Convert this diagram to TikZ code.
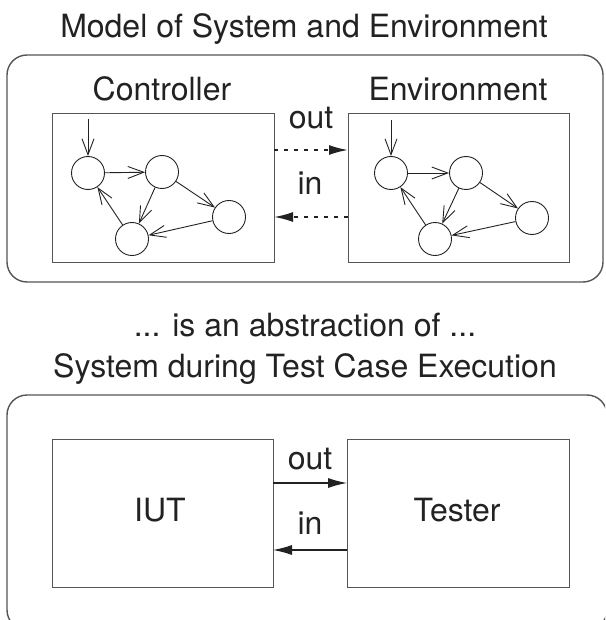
\documentclass[tikz,border=0pt]{standalone}
\usepackage{fontspec}
\setmainfont{TeX Gyre Heros}
\usetikzlibrary{arrows.meta}
\definecolor{ink}{HTML}{222222}
\definecolor{frame}{HTML}{555555}
\tikzset{
  lbl/.style={anchor=base, text=ink, inner sep=0pt, font=\fontsize{32}{38}\selectfont},
  outer/.style={draw=frame, line width=1.4pt, rounded corners=20pt},
  box/.style={draw=frame, line width=1pt, rectangle, inner sep=0pt},
  st/.style={draw=ink, circle, minimum size=33pt, inner sep=0pt, line width=0.9pt},
  tr/.style={draw=ink, line width=0.9pt, -{Straight Barb[length=16pt,width=12pt,line width=0.9pt]}},
  chan/.style={draw=ink, line width=1.1pt, -{Latex[length=19pt,width=10pt]}},
  dchan/.style={chan, line width=1.8pt, dash pattern=on 4pt off 6pt},
}
\begin{document}
\begin{tikzpicture}[x=1pt,y=-1pt]
\useasboundingbox (0,0) rectangle (605,620);
\begin{scope}
\clip (0,0) rectangle (605,620);

% ---------- upper part: model ----------
\node[lbl] (t1) at (304,38) {Model of System and Environment};
\draw[outer] (7,55) rectangle (603,282);

\node[lbl] (lc) at (162,101) {Controller};
\node[lbl] (le) at (458,101) {Environment};

\node[box, minimum width=222pt, minimum height=148pt] (ctrl) at (163,188) {};
\node[box, minimum width=221pt, minimum height=148pt] (env) at (458.5,188) {};

% controller automaton
\node[st] (a1) at (88,173) {};
\node[st] (a2) at (162,172) {};
\node[st] (a3) at (229,217) {};
\node[st] (a4) at (132,239) {};
\coordinate (ai) at (88,119);
\draw[tr] (ai) -- (a1);
\draw[tr] (a1) -- (a2);
\draw[tr] (a2) -- (a3);
\draw[tr] (a2) -- (a4);
\draw[tr] (a3) -- (a4);
\draw[tr] (a4) -- (a1);

% environment automaton
\node[st] (b1) at (391,173) {};
\node[st] (b2) at (466,173) {};
\node[st] (b3) at (532,218) {};
\node[st] (b4) at (435,239) {};
\coordinate (bi) at (391,120);
\draw[tr] (bi) -- (b1);
\draw[tr] (b1) -- (b2);
\draw[tr] (b2) -- (b3);
\draw[tr] (b2) -- (b4);
\draw[tr] (b3) -- (b4);
\draw[tr] (b4) -- (b1);

% channels between the two models
\coordinate (co) at (274,150);
\coordinate (eo) at (348,150);
\coordinate (ci) at (274,217);
\coordinate (ei) at (348,217);
\draw[dchan] (co) -- (eo);
\draw[dchan] (ei) -- (ci);
\node[lbl] (lo1) at (311,129) {out};
\node[lbl] (li1) at (310,195) {in};

% ---------- middle text ----------
\node[lbl] (m1) at (305,336) {... is an abstraction of ...};
\node[lbl] (m2) at (305,377) {System during Test Case Execution};

% ---------- lower part: test execution ----------
\draw[outer] (7,395) rectangle (607,630);
\node[box, minimum width=221pt, minimum height=148pt] (iut) at (162.5,513) {};
\node[box, minimum width=222pt, minimum height=148pt] (tst) at (458,513) {};
\node[lbl] (liut) at (160,521) {IUT};
\node[lbl] (ltst) at (457,521) {Tester};

\coordinate (io) at (273,483);
\coordinate (to) at (347,483);
\coordinate (ii) at (273,550);
\coordinate (ti) at (347,550);
\draw[chan] (io) -- (to);
\draw[chan] (ti) -- (ii);
\node[lbl] (lo2) at (310,469) {out};
\node[lbl] (li2) at (310,534) {in};
\end{scope}
\end{tikzpicture}
\end{document}
